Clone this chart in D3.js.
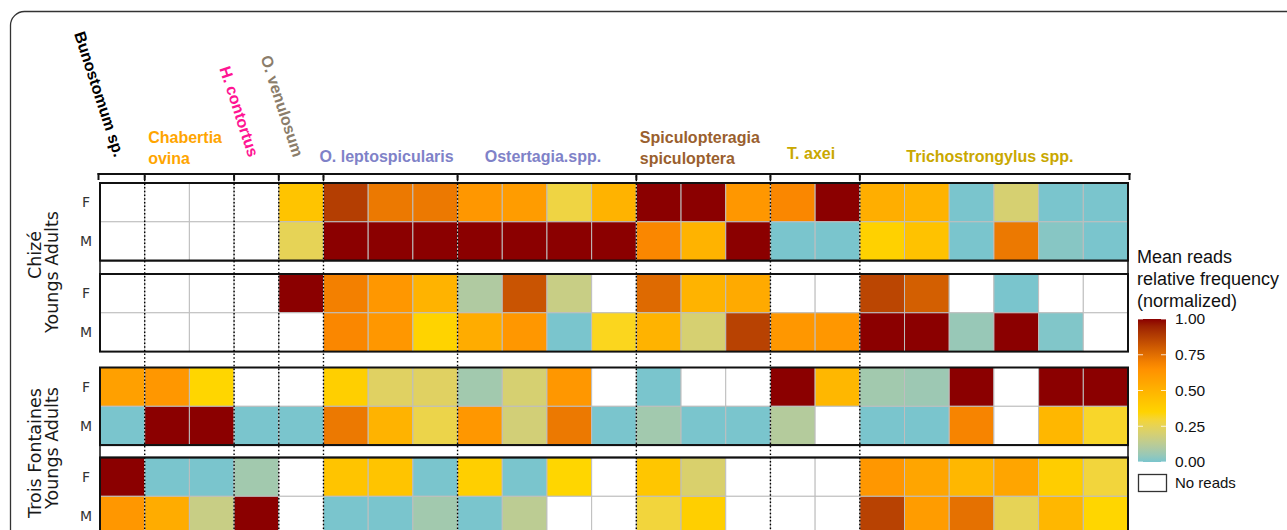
<!DOCTYPE html>
<html>
<head>
<meta charset="utf-8">
<script src="https://cdn.jsdelivr.net/npm/d3@7"></script>
<style>
  body { margin: 0; background: #fff; }
  svg { display: block; }
</style>
</head>
<body>
<div id="chart"></div>
<script>
//-- DATA --\\
var genera = ["Bunostomum sp.", "Chabertia\novina", "H. contortus", "O. venulosum",
  "O. leptospicularis", "Ostertagia.spp.", "Spiculopteragia\nspiculoptera", "T. axei",
  "Trichostrongylus spp."];
var generaSizes = [1, 2, 1, 1, 3, 4, 3, 2, 6];
var sites = ["Chizé", "Trois Fontaines"];
var ageLabel = "Youngs Adults";
var sexes = ["F", "M"];
var legendTicks = [0, 0.25, 0.5, 0.75, 1];

// null = no reads
var chizeYoungF = [null, null, null, null, 0.42, 0.88, 0.72, 0.72, 0.62, 0.60, 0.28, 0.50,
  1, 1, 0.62, 0.68, 1, 0.52, 0.50, 0, 0.20, 0, 0];
var chizeYoungM = [null, null, null, null, 0.25, 1, 1, 1, 1, 1, 1, 1,
  0.68, 0.50, 1, 0, 0, 0.36, 0.43, 0, 0.72, 0.02, 0];
var chizeAdultF = [null, null, null, null, 1, 0.70, 0.62, 0.50, 0.10, 0.82, 0.16, null,
  0.76, 0.50, 0.54, null, null, 0.86, 0.79, null, 0, null, null];
var chizeAdultM = [null, null, null, null, null, 0.68, 0.62, 0.35, 0.53, 0.62, 0, 0.32,
  0.50, 0.20, 0.87, 0.62, 0.62, 1, 1, 0.05, 1, 0.01, null];
var tfYoungF = [0.58, 0.62, 0.34, null, null, 0.37, 0.23, 0.23, 0.07, 0.20, 0.62, null,
  0, null, null, 1, 0.48, 0.07, 0.06, 1, null, 1, 1];
var tfYoungM = [0, 1, 1, 0, 0, 0.72, 0.50, 0.27, 0.62, 0.19, 0.72, 0,
  0.07, 0, 0, 0.11, null, 0, 0, 0.69, null, 0.48, 0.31];
var tfAdultF = [1, 0, 0, 0.07, null, 0.42, 0.42, 0, 0.37, 0, 0.34, null,
  0.41, 0.21, null, null, null, 0.62, 0.56, 0.48, 0.56, 0.38, 0.29];
var tfAdultM = [0.62, 0.53, 0.16, 1, null, 0, 0, 0.07, 0, 0.13, null, null,
  0.29, 0.37, null, null, null, 0.87, 0.60, 0.74, 0.25, 0.48, 0.34];

var panels = [
  [chizeYoungF, chizeYoungM],
  [chizeAdultF, chizeAdultM],
  [tfYoungF, tfYoungM],
  [tfAdultF, tfAdultM]
];

//-- STYLE --\\
var genusColor = {
  "Bunostomum sp.": "#000000",
  "Chabertia\novina": "#FFA500",
  "H. contortus": "#FF1493",
  "O. venulosum": "#8B7D6B",
  "O. leptospicularis": "#7F82C8",
  "Ostertagia.spp.": "#7F82C8",
  "Spiculopteragia\nspiculoptera": "#9A5F2E",
  "T. axei": "#C9A800",
  "Trichostrongylus spp.": "#C9A800"
};
var rotatedGenera = ["Bunostomum sp.", "H. contortus", "O. venulosum"];
var width = 1287, height = 530;
var rowH = 38.8;
var panelTops = [183, 274, 367.5, 457.5];
var gridCol = "#BEBEBE";
var headFont = "'Liberation Sans', Arial, sans-serif";
var stripFont = "'DejaVu Sans', sans-serif";

var svg = d3.select("#chart").append("svg")
  .attr("width", width).attr("height", height);

// outer rounded frame
svg.append("rect")
  .attr("x", 10.5).attr("y", 11.5)
  .attr("width", 1400).attr("height", 700)
  .attr("rx", 14)
  .attr("fill", "none").attr("stroke", "#333").attr("stroke-width", 1.3);

var nCols = d3.sum(generaSizes);
var x = d3.scaleBand().domain(d3.range(nCols)).range([100, 1128]).paddingInner(0);
var color = d3.scaleLinear()
  .domain([0, 1 / 3, 2 / 3, 1])
  .range(["#7AC5CD", "#FFD700", "#FF8C00", "#8B0000"])
  .interpolate(d3.interpolateLab);

// group boundaries (column index where each genus starts)
var starts = [];
generaSizes.reduce(function (acc, n) { starts.push(acc); return acc + n; }, 0);
var bounds = starts.slice(1).map(function (s) { return x(s); });

//-- cells --\\
panels.forEach(function (rows, p) {
  var y = d3.scaleBand().domain(sexes)
    .range([panelTops[p], panelTops[p] + 2 * rowH]);
  var g = svg.append("g");
  rows.forEach(function (vals, r) {
    g.selectAll(null).data(vals).enter().append("rect")
      .attr("x", function (d, i) { return x(i); })
      .attr("y", y(sexes[r]))
      .attr("width", x.bandwidth())
      .attr("height", y.bandwidth())
      .attr("fill", function (d) { return d === null ? "#fff" : color(d); })
      .attr("stroke", gridCol).attr("stroke-width", 1);
    svg.append("text")
      .attr("x", 86).attr("y", y(sexes[r]) + y.bandwidth() / 2)
      .attr("dy", "0.36em")
      .attr("text-anchor", "middle")
      .attr("font-family", stripFont).attr("font-size", 14)
      .attr("fill", "#333")
      .text(sexes[r]);
  });
});

// strips between young/adult panels
[[panelTops[0] + 2 * rowH, panelTops[1]], [panelTops[2] + 2 * rowH, panelTops[3]]].forEach(function (s) {
  svg.append("rect")
    .attr("x", 100).attr("y", s[0])
    .attr("width", 1028).attr("height", s[1] - s[0])
    .attr("fill", "#fff").attr("stroke", "#111").attr("stroke-width", 1.5);
});

// panel borders
panelTops.forEach(function (t) {
  svg.append("rect")
    .attr("x", 100).attr("y", t)
    .attr("width", 1028).attr("height", 2 * rowH)
    .attr("fill", "none").attr("stroke", "#111").attr("stroke-width", 2);
});

// dotted genus separators
svg.selectAll(".sep").data(bounds).enter().append("line")
  .attr("class", "sep")
  .attr("x1", function (d) { return d; }).attr("x2", function (d) { return d; })
  .attr("y1", 176).attr("y2", 545)
  .attr("stroke", "#000").attr("stroke-width", 1.4)
  .attr("stroke-dasharray", "1.5,2.2");

//-- top axis --\\
svg.append("line")
  .attr("x1", 97.5).attr("x2", 1130.5).attr("y1", 174).attr("y2", 174)
  .attr("stroke", "#111").attr("stroke-width", 2);
svg.selectAll(".tk").data([98.5].concat(bounds, [1129.5])).enter().append("line")
  .attr("class", "tk")
  .attr("x1", function (d) { return d; }).attr("x2", function (d) { return d; })
  .attr("y1", 173).attr("y2", 180)
  .attr("stroke", "#111").attr("stroke-width", 2);

// genus labels
genera.forEach(function (name, i) {
  var x0 = x(starts[i]);
  var x1 = x0 + generaSizes[i] * x.bandwidth();
  var t = svg.append("text")
    .attr("font-family", headFont).attr("font-weight", "bold")
    .attr("font-size", 16).attr("fill", genusColor[name]);
  if (rotatedGenera.indexOf(name) >= 0) {
    var ex = (x0 + x1) / 2 - 8;
    t.attr("text-anchor", "end")
      .attr("transform", "translate(" + ex + ",158) rotate(72)")
      .text(name);
  } else if (name.indexOf("\n") >= 0) {
    var lines = name.split("\n");
    t.attr("text-anchor", "start");
    lines.forEach(function (l, k) {
      t.append("tspan").attr("x", x0 + 3.5).attr("y", 143 + 21 * k).text(l);
    });
  } else {
    t.attr("text-anchor", "middle")
      .attr("x", (x0 + x1) / 2 - 4)
      .attr("y", name === "T. axei" ? 159 : 162)
      .text(name);
  }
});

//-- site strips (left) --\\
var siteCenters = [[255, 272], [453, 448]];
sites.forEach(function (s, i) {
  svg.append("text")
    .attr("transform", "translate(41," + siteCenters[i][0] + ") rotate(-90)")
    .attr("text-anchor", "middle")
    .attr("font-family", stripFont).attr("font-size", 17.5).attr("fill", "#1a1a1a")
    .text(s);
  svg.append("text")
    .attr("transform", "translate(58," + siteCenters[i][1] + ") rotate(-90)")
    .attr("text-anchor", "middle")
    .attr("font-family", stripFont).attr("font-size", 17.5).attr("fill", "#1a1a1a")
    .text(ageLabel);
});

//-- legend --\\
var lg = svg.append("g");
["Mean reads", "relative frequency", "(normalized)"].forEach(function (l, k) {
  lg.append("text")
    .attr("x", 1137).attr("y", 263 + 22 * k)
    .attr("font-family", headFont).attr("font-size", 18).attr("fill", "#111")
    .text(l);
});
var ly = d3.scaleLinear().domain([0, 1]).range([462, 319]);
var grad = svg.append("defs").append("linearGradient")
  .attr("id", "lgrad").attr("x1", 0).attr("y1", 1).attr("x2", 0).attr("y2", 0);
d3.range(0, 1.0001, 0.05).forEach(function (v) {
  grad.append("stop").attr("offset", v).attr("stop-color", color(v));
});
lg.append("rect")
  .attr("x", 1138).attr("y", ly(1))
  .attr("width", 28).attr("height", ly(0) - ly(1))
  .attr("fill", "url(#lgrad)");
legendTicks.forEach(function (v) {
  [[1138, 1143], [1161, 1166]].forEach(function (s) {
    lg.append("line")
      .attr("x1", s[0]).attr("x2", s[1]).attr("y1", ly(v)).attr("y2", ly(v))
      .attr("stroke", "#fff").attr("stroke-opacity", 0.8).attr("stroke-width", 1);
  });
});
var legAxis = lg.append("g")
  .attr("transform", "translate(1166,0)")
  .call(d3.axisRight(ly).tickValues(legendTicks).tickFormat(d3.format(".2f")).tickSize(0).tickPadding(9));
legAxis.select(".domain").remove();
legAxis.selectAll("text")
  .attr("font-family", headFont).attr("font-size", 15.5).attr("fill", "#111");

lg.append("rect")
  .attr("x", 1138.5).attr("y", 474.5).attr("width", 28).attr("height", 17)
  .attr("fill", "#fff").attr("stroke", "#333").attr("stroke-width", 1.3);
lg.append("text")
  .attr("x", 1175).attr("y", 483).attr("dy", "0.35em")
  .attr("font-family", headFont).attr("font-size", 15).attr("fill", "#111")
  .text("No reads");
</script>
</body>
</html>
